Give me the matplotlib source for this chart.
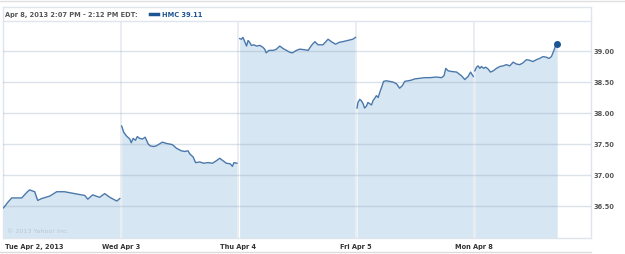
import numpy as np
import matplotlib
matplotlib.use("Agg")
import matplotlib.pyplot as plt
from matplotlib.lines import Line2D

# minutes after the open (9:30) and price, one pair of lists per trading day
tue_min = [2, 16, 29, 62, 79, 88, 105, 115, 128, 155, 178, 204, 237, 271, 281, 297, 320, 337, 354, 377, 387]
tue_px = [36.47, 36.56, 36.63, 36.63, 36.72, 36.76, 36.73, 36.59, 36.62, 36.66, 36.73, 36.73,
          36.70, 36.67, 36.61, 36.68, 36.64, 36.70, 36.64, 36.58, 36.62]

wed_min = [3, 10, 19, 30, 35, 41, 49, 55, 63, 72, 81, 91, 98, 109, 118, 138, 151, 171, 185, 201,
           212, 223, 229, 240, 248, 262, 275, 289, 304, 317, 328, 339, 350, 363, 370, 375, 385]
wed_px = [37.79, 37.69, 37.63, 37.58, 37.52, 37.59, 37.56, 37.62, 37.59, 37.58, 37.61, 37.50,
          37.47, 37.46, 37.47, 37.53, 37.51, 37.49, 37.43, 37.39, 37.38, 37.39, 37.34, 37.29,
          37.20, 37.21, 37.19, 37.20, 37.19, 37.23, 37.27, 37.23, 37.19, 37.18, 37.14, 37.20, 37.19]

thu_min = [4, 10, 15, 21, 27, 32, 37, 43, 51, 60, 71, 81, 87, 92, 101, 115, 126, 137, 148, 159,
           170, 179, 192, 203, 220, 231, 242, 253, 264, 280, 297, 308, 322, 334, 345, 362, 379, 388]
thu_px = [39.20, 39.19, 39.22, 39.15, 39.08, 39.17, 39.14, 39.09, 39.10, 39.08, 39.09, 39.06,
          39.03, 38.97, 39.01, 39.01, 39.03, 39.08, 39.04, 39.01, 38.98, 38.97, 39.01, 39.03,
          39.02, 39.01, 39.09, 39.15, 39.10, 39.10, 39.19, 39.15, 39.11, 39.14, 39.15, 39.17, 39.19, 39.22]

fri_min = [3, 6, 12, 17, 23, 28, 34, 39, 45, 51, 56, 62, 67, 73, 78, 84, 91, 100, 111, 122, 134,
           144, 153, 161, 172, 183, 194, 211, 227, 244, 266, 283, 291, 297, 305, 316, 333, 349,
           360, 371, 379, 388]
fri_px = [38.08, 38.17, 38.22, 38.20, 38.15, 38.08, 38.11, 38.17, 38.15, 38.13, 38.20, 38.24,
          38.28, 38.25, 38.33, 38.41, 38.51, 38.52, 38.51, 38.50, 38.47, 38.40, 38.44, 38.51,
          38.52, 38.53, 38.55, 38.56, 38.57, 38.57, 38.58, 38.57, 38.60, 38.72, 38.68, 38.67,
          38.66, 38.60, 38.54, 38.59, 38.66, 38.59]

mon_min = [3, 9, 14, 20, 25, 33, 39, 47, 55, 64, 75, 86, 97, 108, 119, 130, 141, 152, 163, 174,
           185, 196, 207, 218, 229, 240, 249, 257, 266, 271, 276]
mon_px = [38.68, 38.74, 38.76, 38.72, 38.75, 38.72, 38.74, 38.71, 38.66, 38.68, 38.72, 38.75,
          38.76, 38.78, 38.76, 38.82, 38.79, 38.78, 38.81, 38.86, 38.85, 38.83, 38.86, 38.88,
          38.91, 38.90, 38.88, 38.91, 39.02, 39.09, 39.11]

days = [(tue_min, tue_px), (wed_min, wed_px), (thu_min, thu_px), (fri_min, fri_px), (mon_min, mon_px)]
day_labels = ["Tue Apr 2, 2013", "Wed Apr 3", "Thu Apr 4", "Fri Apr 5", "Mon Apr 8"]
y_ticks = [36.5, 37.0, 37.5, 38.0, 38.5, 39.0]
session_len = 390.0

W, H = 625, 255
line_c = "#4a78ab"
fill_c = "#d6e6f2"
grid_c = "#dfe5ec"
text_c = "#555555"
fs = 4.8


def fx(x):
    return x / W


def fy(y):
    return 1 - y / H


fig = plt.figure(figsize=(W / 100, H / 100), dpi=100)
ax = fig.add_axes([fx(3), fy(239), fx(591) - fx(3), fy(22) - fy(239)])
ymin, ymax = 35.984, 39.484
ax.set_xlim(0, 4.995)
ax.set_ylim(ymin, ymax)

for t in y_ticks:
    ax.axhline(t, color="#8aa2ba", alpha=0.3, lw=1.0, zorder=3)

for i, (mins, px) in enumerate(days):
    xs = i + np.array(mins) / session_len
    ax.fill_between(xs, px, ymin, color=fill_c, lw=0, zorder=1)
    ax.plot(xs, px, color=line_c, lw=1.0, zorder=4)

for i in range(1, 5):
    ax.axvline(i, color="#e8edf2", lw=1.3, zorder=2)

last_x = 4 + mon_min[-1] / session_len
ax.plot([last_x], [mon_px[-1]], "o", color="#1d5593", ms=4, zorder=5)

ax.set_xticks([])
ax.set_yticks([])
for s in ax.spines.values():
    s.set_color(grid_c)
    s.set_linewidth(1.0)

# y labels on the right
for t in y_ticks:
    yp = ax.transData.transform((0, t))[1] / H
    fig.text(fx(594), yp, f"{t:.2f}", fontsize=fs, fontweight="bold", color=text_c,
             va="center", ha="left")

# day labels below
for i, lab in enumerate(day_labels):
    xp = ax.transData.transform((i, 0))[0] / W
    if i == 0:
        fig.text(fx(5), fy(247), lab, fontsize=fs, fontweight="bold", color="#333333",
                 va="center", ha="left")
    else:
        fig.text(xp, fy(247), lab, fontsize=fs, fontweight="bold", color="#333333",
                 va="center", ha="center")

# header and frame lines
fig.add_artist(Line2D([0, 1], [fy(2), fy(2)], color="#e0e0e0", lw=1.0))
fig.add_artist(Line2D([fx(3), fx(591)], [fy(8), fy(8)], color=grid_c, lw=1.0))
fig.add_artist(Line2D([fx(3), fx(3)], [fy(8), fy(22)], color=grid_c, lw=1.0))
fig.add_artist(Line2D([fx(591), fx(591)], [fy(8), fy(22)], color=grid_c, lw=1.0))
fig.add_artist(Line2D([0, fx(591)], [fy(253), fy(253)], color="#dcdcdc", lw=1.0))

fig.text(fx(5), fy(15), "Apr 8, 2013 2:07 PM - 2:12 PM EDT:", fontsize=fs, fontweight="bold",
         color=text_c, va="center", ha="left")
fig.add_artist(Line2D([fx(150), fx(158)], [fy(14.5), fy(14.5)], color="#1d5593", lw=2.5))
fig.text(fx(162), fy(15), "HMC 39.11", fontsize=fs, fontweight="bold", color="#1d5593",
         va="center", ha="left")

fig.text(fx(7), fy(232), "\u00a9 2013 Yahoo! Inc.", fontsize=4.6, color="#bcc8d4",
         va="center", ha="left")

fig.savefig("out.png", dpi=100)
